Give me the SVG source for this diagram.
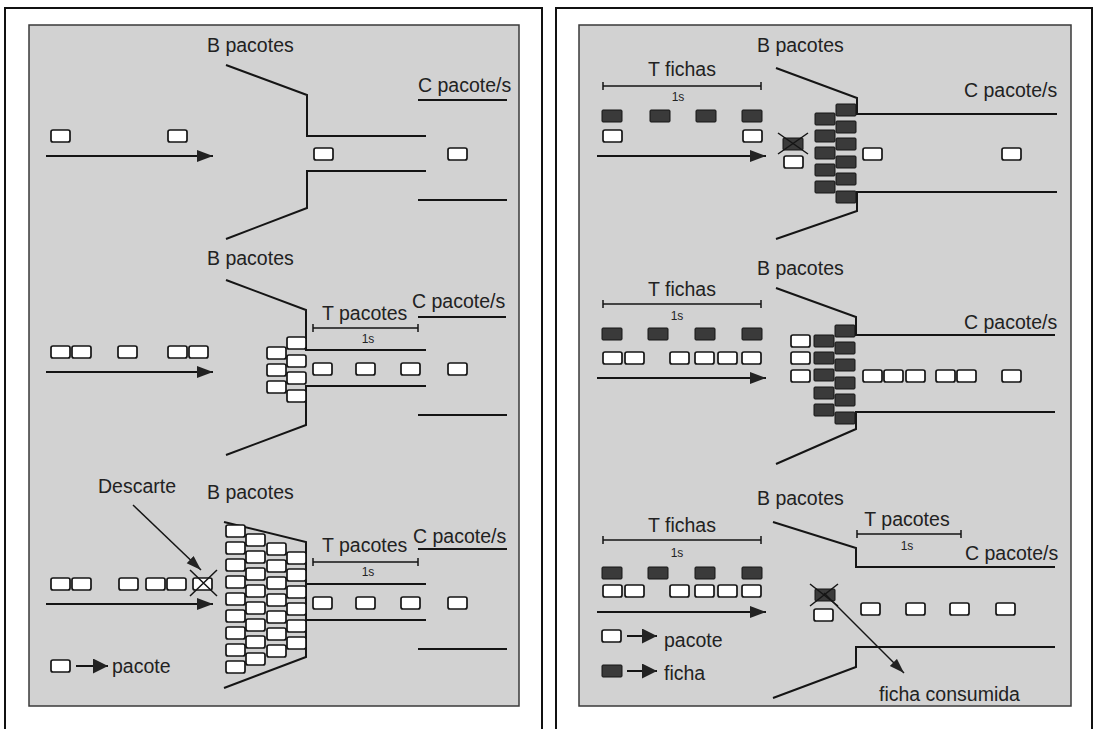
<svg xmlns="http://www.w3.org/2000/svg" width="1097" height="729" viewBox="0 0 1097 729">
<defs>
<style>
.frame{fill:#fff;stroke:#111;stroke-width:2}
.panel{fill:#d2d2d2;stroke:#3a3a3a;stroke-width:1.5}
.ln{fill:none;stroke:#151515;stroke-width:2}
.thin{fill:none;stroke:#151515;stroke-width:1.5}
.pk{fill:#fff;stroke:#151515;stroke-width:1.7}
.fc{fill:#3a3a3a;stroke:#151515;stroke-width:1}
.t{font-family:"Liberation Sans",Arial,Helvetica,sans-serif;font-size:19.5px;fill:#222}
.s{font-family:"Liberation Sans",Arial,Helvetica,sans-serif;font-size:12px;fill:#222}
.m{text-anchor:middle}
</style>
<marker id="ah" markerUnits="userSpaceOnUse" markerWidth="18" markerHeight="12" refX="16" refY="6" orient="auto">
<path d="M0,0 L16,6 L0,12 z" fill="#222"/>
</marker>
<marker id="ahb" markerUnits="userSpaceOnUse" markerWidth="16" markerHeight="16" refX="15" refY="7.5" orient="auto">
<path d="M0,0 L15,7.5 L0,15 z" fill="#222"/>
</marker>
<marker id="ahs" markerUnits="userSpaceOnUse" markerWidth="16" markerHeight="12" refX="15" refY="5" orient="auto">
<path d="M0,0 L15,5 L0,10 z" fill="#222"/>
</marker>
<rect id="p" width="19" height="12" rx="2"/>
<rect id="f" width="20" height="12" rx="1"/>
</defs>

<g id="frames">
<rect class="frame" x="5" y="8" width="537" height="740"/>
<rect class="panel" x="29" y="25" width="490" height="681"/>
<rect class="frame" x="556" y="8" width="536" height="740"/>
<rect class="panel" x="579" y="25" width="492" height="681"/>
</g>

<!-- LEFT TOP -->
<g id="l1">
<g id="l1-funnel"><path class="ln" d="M226,65 L307,95 L307,136 L426,136 M426,171 L307,171 L307,208 L226,239"/></g>
<g id="l1-link"><path class="ln" d="M418,100 H507 M418,200 H507"/></g>
<g id="l1-labels">
<text class="t" x="207" y="52">B pacotes</text>
<text class="t" x="418" y="92">C pacote/s</text>
</g>
<g id="l1-packets">
<use href="#p" class="pk" x="51" y="130"/><use href="#p" class="pk" x="168" y="130"/>
<use href="#p" class="pk" x="314" y="148"/><use href="#p" class="pk" x="448" y="148"/>
</g>
</g>

<!-- LEFT MIDDLE -->
<g id="l2">
<g id="l2-funnel"><path class="ln" d="M226,280 L306,310 L306,350 L426,350 M426,386 L306,386 L306,425 L226,455"/></g>
<g id="l2-link"><path class="ln" d="M418,317 H506 M418,415 H507"/></g>
<g id="l2-labels">
<text class="t" x="322" y="320">T pacotes</text>
<text class="t" x="207" y="265">B pacotes</text>
<text class="t" x="412" y="308">C pacote/s</text>
<text class="s m" x="368" y="343">1s</text>
</g>
<g id="l2-dim"><path class="thin" d="M313,328 H418 M313,324 V332 M418,324 V332"/></g>
<g id="l2-packets">
<use href="#p" class="pk" x="51" y="346"/><use href="#p" class="pk" x="72" y="346"/>
<use href="#p" class="pk" x="118" y="346"/><use href="#p" class="pk" x="168" y="346"/><use href="#p" class="pk" x="189" y="346"/>
<use href="#p" class="pk" x="267" y="347"/><use href="#p" class="pk" x="267" y="364"/><use href="#p" class="pk" x="267" y="381"/>
<use href="#p" class="pk" x="287" y="337"/><use href="#p" class="pk" x="287" y="355"/><use href="#p" class="pk" x="287" y="372"/><use href="#p" class="pk" x="287" y="390"/>
<use href="#p" class="pk" x="313" y="363"/><use href="#p" class="pk" x="356" y="363"/><use href="#p" class="pk" x="401" y="363"/><use href="#p" class="pk" x="448" y="363"/>
</g>
</g>

<!-- LEFT BOTTOM -->
<g id="l3">
<g id="l3-funnel"><path class="ln" d="M224,522 L306,542 L306,657 L224,688 M306,584 H426 M306,620 H426"/></g>
<g id="l3-link"><path class="ln" d="M418,549 H507 M418,649 H507"/></g>
<g id="l3-labels">
<text class="t" x="98" y="493">Descarte</text>
<text class="t" x="207" y="499">B pacotes</text>
<text class="t" x="322" y="552">T pacotes</text>
<text class="t" x="413" y="543">C pacote/s</text>
<text class="s m" x="368" y="576">1s</text>
<text class="t" x="112" y="673">pacote</text>
</g>
<g id="l3-dim"><path class="thin" d="M313,562 H418 M313,558 V566 M418,558 V566"/></g>
<g id="l3-packets">
<use href="#p" class="pk" x="51" y="578"/><use href="#p" class="pk" x="72" y="578"/>
<use href="#p" class="pk" x="119" y="578"/><use href="#p" class="pk" x="146" y="578"/><use href="#p" class="pk" x="167" y="578"/>
<use href="#p" class="pk" x="193" y="578"/>
<use href="#p" class="pk" x="313" y="597"/><use href="#p" class="pk" x="356" y="597"/><use href="#p" class="pk" x="401" y="597"/><use href="#p" class="pk" x="448" y="597"/>
<use href="#p" class="pk" x="51" y="660"/>
</g>
<g id="l3-drop"><path class="thin" d="M190,570 L217,596 M217,570 L190,596"/></g>
<g id="l3-queue">
<use href="#p" class="pk" x="226" y="525"/><use href="#p" class="pk" x="226" y="542"/><use href="#p" class="pk" x="226" y="559"/><use href="#p" class="pk" x="226" y="576"/><use href="#p" class="pk" x="226" y="593"/><use href="#p" class="pk" x="226" y="610"/><use href="#p" class="pk" x="226" y="627"/><use href="#p" class="pk" x="226" y="644"/><use href="#p" class="pk" x="226" y="661"/>
<use href="#p" class="pk" x="246" y="534"/><use href="#p" class="pk" x="246" y="551"/><use href="#p" class="pk" x="246" y="568"/><use href="#p" class="pk" x="246" y="585"/><use href="#p" class="pk" x="246" y="602"/><use href="#p" class="pk" x="246" y="619"/><use href="#p" class="pk" x="246" y="636"/><use href="#p" class="pk" x="246" y="653"/>
<use href="#p" class="pk" x="267" y="543"/><use href="#p" class="pk" x="267" y="560"/><use href="#p" class="pk" x="267" y="577"/><use href="#p" class="pk" x="267" y="594"/><use href="#p" class="pk" x="267" y="611"/><use href="#p" class="pk" x="267" y="628"/><use href="#p" class="pk" x="267" y="645"/>
<use href="#p" class="pk" x="287" y="552"/><use href="#p" class="pk" x="287" y="569"/><use href="#p" class="pk" x="287" y="586"/><use href="#p" class="pk" x="287" y="603"/><use href="#p" class="pk" x="287" y="620"/><use href="#p" class="pk" x="287" y="637"/>
</g>
</g>

<!-- RIGHT TOP -->
<g id="r1">
<g id="r1-funnel"><path class="ln" d="M776,68 L857,98 L857,114 L1057,114 M1057,192 L857,192 L857,211 L776,239"/></g>
<g id="r1-labels">
<text class="t" x="757" y="52">B pacotes</text>
<text class="t m" x="682" y="76">T fichas</text>
<text class="s m" x="678" y="101">1s</text>
<text class="t" x="964" y="97">C pacote/s</text>
</g>
<g id="r1-dim"><path class="thin" d="M603,86 H761 M603,82 V90 M761,82 V90"/></g>
<g id="r1-tokens">
<use href="#f" class="fc" x="602" y="110"/><use href="#f" class="fc" x="650" y="110"/><use href="#f" class="fc" x="696" y="110"/><use href="#f" class="fc" x="742" y="110"/>
<use href="#f" class="fc" x="783" y="138"/>
<use href="#f" class="fc" x="815" y="113"/><use href="#f" class="fc" x="815" y="130"/><use href="#f" class="fc" x="815" y="147"/><use href="#f" class="fc" x="815" y="164"/><use href="#f" class="fc" x="815" y="181"/>
<use href="#f" class="fc" x="836" y="104"/><use href="#f" class="fc" x="836" y="121"/><use href="#f" class="fc" x="836" y="138"/><use href="#f" class="fc" x="836" y="156"/><use href="#f" class="fc" x="836" y="173"/><use href="#f" class="fc" x="836" y="191"/>
</g>
<g id="r1-drop"><path class="thin" d="M778,133 L808,154 M808,133 L778,154"/></g>
<g id="r1-packets">
<use href="#p" class="pk" x="603" y="130"/><use href="#p" class="pk" x="743" y="130"/>
<use href="#p" class="pk" x="784" y="156"/>
<use href="#p" class="pk" x="863" y="148"/><use href="#p" class="pk" x="1002" y="148"/>
</g>
</g>

<!-- RIGHT MIDDLE -->
<g id="r2">
<g id="r2-funnel"><path class="ln" d="M776,288 L856,317 L856,335 L1055,335 M1055,412 L856,412 L856,429 L776,464"/></g>
<g id="r2-labels">
<text class="t" x="757" y="275">B pacotes</text>
<text class="t m" x="682" y="296">T fichas</text>
<text class="s m" x="677" y="320">1s</text>
<text class="t" x="964" y="329">C pacote/s</text>
</g>
<g id="r2-dim"><path class="thin" d="M603,304 H761 M603,300 V308 M761,300 V308"/></g>
<g id="r2-tokens">
<use href="#f" class="fc" x="602" y="328"/><use href="#f" class="fc" x="648" y="328"/><use href="#f" class="fc" x="695" y="328"/><use href="#f" class="fc" x="742" y="328"/>
<use href="#f" class="fc" x="814" y="335"/><use href="#f" class="fc" x="814" y="352"/><use href="#f" class="fc" x="814" y="369"/><use href="#f" class="fc" x="814" y="387"/><use href="#f" class="fc" x="814" y="404"/>
<use href="#f" class="fc" x="835" y="325"/><use href="#f" class="fc" x="835" y="342"/><use href="#f" class="fc" x="835" y="359"/><use href="#f" class="fc" x="835" y="377"/><use href="#f" class="fc" x="835" y="394"/><use href="#f" class="fc" x="835" y="412"/>
</g>
<g id="r2-packets">
<use href="#p" class="pk" x="603" y="352"/><use href="#p" class="pk" x="625" y="352"/><use href="#p" class="pk" x="670" y="352"/><use href="#p" class="pk" x="695" y="352"/><use href="#p" class="pk" x="718" y="352"/><use href="#p" class="pk" x="742" y="352"/>
<use href="#p" class="pk" x="791" y="335"/><use href="#p" class="pk" x="791" y="352"/><use href="#p" class="pk" x="791" y="370"/>
<use href="#p" class="pk" x="863" y="370"/><use href="#p" class="pk" x="884" y="370"/><use href="#p" class="pk" x="906" y="370"/><use href="#p" class="pk" x="936" y="370"/><use href="#p" class="pk" x="957" y="370"/><use href="#p" class="pk" x="1002" y="370"/>
</g>
</g>

<!-- RIGHT BOTTOM -->
<g id="r3">
<g id="r3-funnel"><path class="ln" d="M773,522 L856,548 L856,567 L1055,567 M1055,647 L856,647 L856,667 L773,698"/></g>
<g id="r3-labels">
<text class="t" x="757" y="505">B pacotes</text>
<text class="t m" x="682" y="532">T fichas</text>
<text class="s m" x="677" y="557">1s</text>
<text class="t m" x="907" y="526">T pacotes</text>
<text class="s m" x="907" y="550">1s</text>
<text class="t" x="965" y="560">C pacote/s</text>
<text class="t" x="664" y="647">pacote</text>
<text class="t" x="664" y="680">ficha</text>
<text class="t" x="879" y="701">ficha consumida</text>
</g>
<g id="r3-dim"><path class="thin" d="M603,540 H761 M603,536 V544 M761,536 V544 M857,534 H961 M857,530 V538 M961,530 V538"/></g>
<g id="r3-tokens">
<use href="#f" class="fc" x="602" y="567"/><use href="#f" class="fc" x="648" y="567"/><use href="#f" class="fc" x="695" y="567"/><use href="#f" class="fc" x="742" y="567"/>
<use href="#f" class="fc" x="815" y="589"/>
<use href="#f" class="fc" x="602" y="665"/>
</g>
<g id="r3-drop"><path class="thin" d="M810,584 L838,606 M838,584 L810,606"/></g>
<g id="r3-packets">
<use href="#p" class="pk" x="603" y="585"/><use href="#p" class="pk" x="625" y="585"/><use href="#p" class="pk" x="670" y="585"/><use href="#p" class="pk" x="695" y="585"/><use href="#p" class="pk" x="718" y="585"/><use href="#p" class="pk" x="742" y="585"/>
<use href="#p" class="pk" x="814" y="609"/>
<use href="#p" class="pk" x="861" y="603"/><use href="#p" class="pk" x="906" y="603"/><use href="#p" class="pk" x="950" y="603"/><use href="#p" class="pk" x="996" y="603"/>
<use href="#p" class="pk" x="602" y="630"/>
</g>
</g>

<!-- CONNECTORS -->
<g id="connectors">
<path class="ln" d="M46,156 H213" marker-end="url(#ah)"/>
<path class="ln" d="M46,372 H213" marker-end="url(#ah)"/>
<path class="ln" d="M46,604 H213" marker-end="url(#ah)"/>
<path class="thin" d="M133,505 L201,570" marker-end="url(#ahs)"/>
<path class="ln" d="M76,666 H108" marker-end="url(#ahb)"/>
<path class="ln" d="M597,156 H766" marker-end="url(#ah)"/>
<path class="ln" d="M597,378 H766" marker-end="url(#ah)"/>
<path class="ln" d="M597,612 H766" marker-end="url(#ah)"/>
<path class="ln" d="M627,636 H657" marker-end="url(#ahb)"/>
<path class="ln" d="M627,671 H657" marker-end="url(#ahb)"/>
<path class="thin" d="M824,593 L904,673" marker-end="url(#ahs)"/>
</g>
</svg>
